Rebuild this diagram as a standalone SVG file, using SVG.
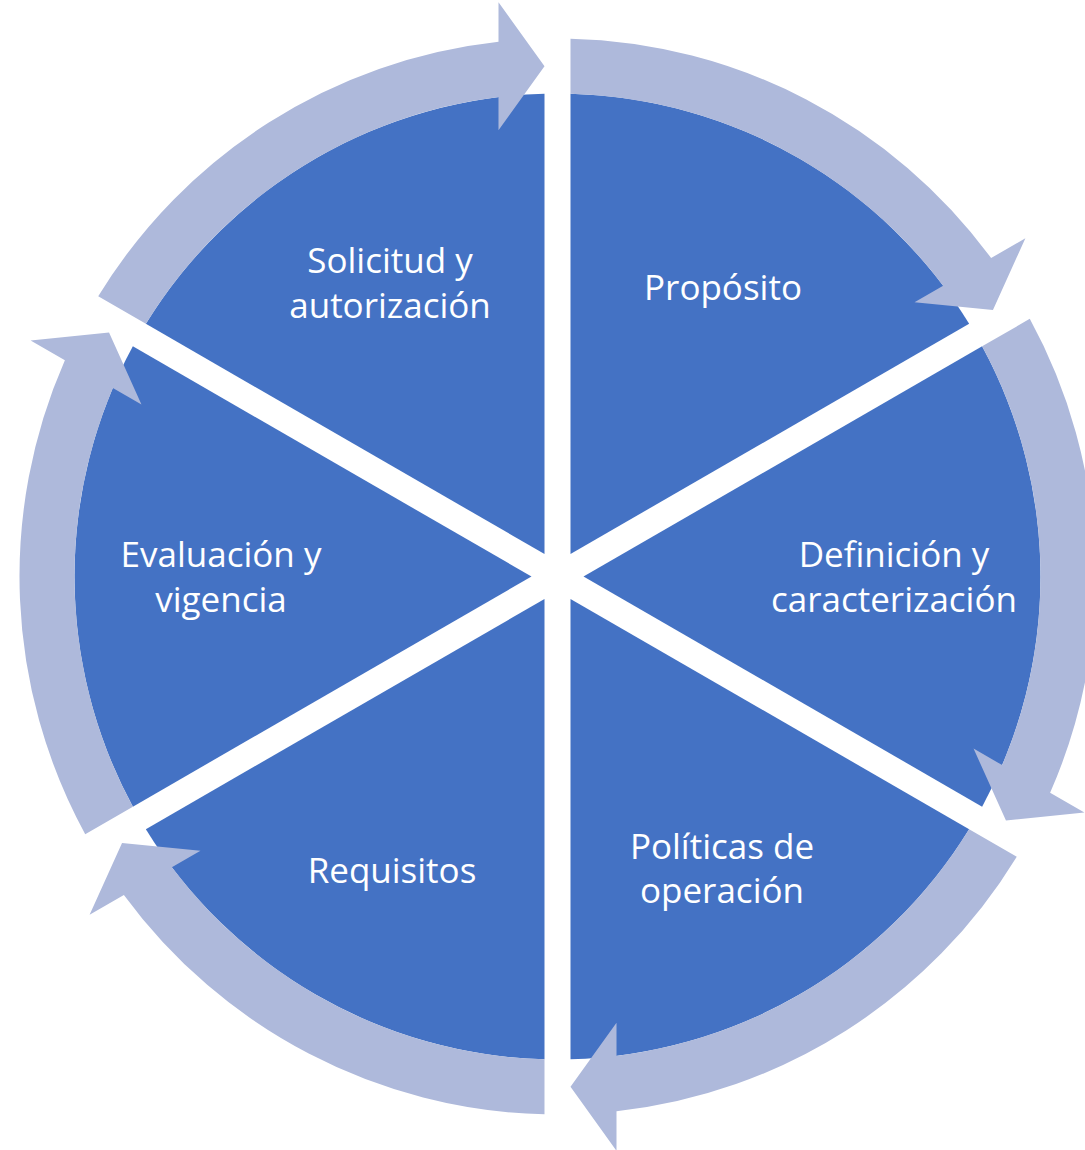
<svg xmlns="http://www.w3.org/2000/svg" xmlns:xlink="http://www.w3.org/1999/xlink" width="1085" height="1150" viewBox="0 0 1085 1150">
  <style>
    .seg { fill: #4472C4; }
    .arr { fill: #AEB9DB; }
    .lbl { fill: #FFFFFF; font-family: "Open Sans", "Liberation Sans", sans-serif; font-size: 35px; text-anchor: middle; }
  </style>
  <defs>
    <path id="sector" d="M -13,-22.52 L -411.64,-252.67 A 483 483 0 0 1 -13,-482.83 Z"/>
    <path id="arrow" d="M -459.28,-280.18 A 538 538 0 0 1 -59,-534.76 L -59,-574.33 L -13,-510.33 L -59,-446.33 L -59,-479.38 A 483 483 0 0 0 -411.64,-252.67 Z"/>
  </defs>
  <rect width="1085" height="1150" fill="#FFFFFF"/>
  <g id="node-solicitud">
    <use xlink:href="#sector" href="#sector" class="seg" transform="translate(557.5,576.5) rotate(0)"/>
    <text class="lbl" x="390" y="273">Solicitud y</text>
    <text class="lbl" x="390" y="318">autorización</text>
  </g>
  <g id="node-proposito">
    <use xlink:href="#sector" href="#sector" class="seg" transform="translate(557.5,576.5) rotate(60)"/>
    <text class="lbl" x="723" y="300">Propósito</text>
  </g>
  <g id="node-definicion">
    <use xlink:href="#sector" href="#sector" class="seg" transform="translate(557.5,576.5) rotate(120)"/>
    <text class="lbl" x="894" y="567">Definición y</text>
    <text class="lbl" x="894" y="612">caracterización</text>
  </g>
  <g id="node-politicas">
    <use xlink:href="#sector" href="#sector" class="seg" transform="translate(557.5,576.5) rotate(180)"/>
    <text class="lbl" x="722" y="859">Políticas de</text>
    <text class="lbl" x="722" y="903">operación</text>
  </g>
  <g id="node-requisitos">
    <use xlink:href="#sector" href="#sector" class="seg" transform="translate(557.5,576.5) rotate(240)"/>
    <text class="lbl" x="392" y="883">Requisitos</text>
  </g>
  <g id="node-evaluacion">
    <use xlink:href="#sector" href="#sector" class="seg" transform="translate(557.5,576.5) rotate(300)"/>
    <text class="lbl" x="221" y="567">Evaluación y</text>
    <text class="lbl" x="221" y="612">vigencia</text>
  </g>
  <g id="connectors" transform="translate(557.5,576.5)">
    <use xlink:href="#arrow" href="#arrow" class="arr" transform="rotate(0)"/>
    <use xlink:href="#arrow" href="#arrow" class="arr" transform="rotate(60)"/>
    <use xlink:href="#arrow" href="#arrow" class="arr" transform="rotate(120)"/>
    <use xlink:href="#arrow" href="#arrow" class="arr" transform="rotate(180)"/>
    <use xlink:href="#arrow" href="#arrow" class="arr" transform="rotate(240)"/>
    <use xlink:href="#arrow" href="#arrow" class="arr" transform="rotate(300)"/>
  </g>
</svg>
